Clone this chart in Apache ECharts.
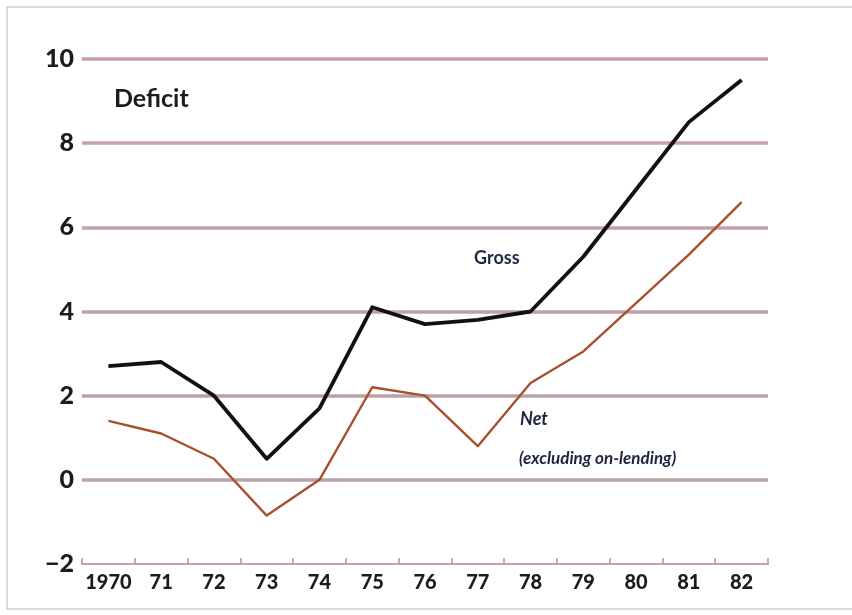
<!DOCTYPE html>
<html>
<head>
<meta charset="utf-8">
<script src="https://cdn.jsdelivr.net/npm/echarts@6/dist/echarts.min.js"></script>
<style>
  html, body { margin: 0; padding: 0; background: #fff; }
  #chart { width: 852px; height: 615px; }
</style>
</head>
<body>
<div id="chart"></div>
<script>
// Government deficit, 1970–82
const years = ['1970', '71', '72', '73', '74', '75', '76', '77', '78', '79', '80', '81', '82'];
const gross = [2.7, 2.8, 2.0, 0.5, 1.7, 4.1, 3.7, 3.8, 4.0, 5.3, 6.9, 8.5, 9.5];
const net   = [1.4, 1.1, 0.5, -0.85, 0.0, 2.2, 2.0, 0.8, 2.3, 3.05, 4.2, 5.35, 6.6];
const yTicks = { min: -2, max: 10, step: 2 };

const chart = echarts.init(document.getElementById('chart'));
const font = 'Lato, "Open Sans", sans-serif';
// one colour per horizontal rule, bottom (-2) to top (10); the bottom one is the axis itself
const ruleColors = ['rgba(0,0,0,0)', '#b9a3a8', '#b7a2a6', '#bca2a8', '#c6a0aa', '#c8a0a9', '#c79fa8'];

chart.setOption({
  backgroundColor: '#ffffff',
  animation: false,
  grid: { left: 82, right: 84, top: 59, bottom: 51 },
  xAxis: {
    type: 'category',
    data: years,
    boundaryGap: true,
    axisLine: { show: true, onZero: false, lineStyle: { color: '#bca6a8', width: 2 } },
    axisTick: { show: true, inside: true, length: 6, lineStyle: { color: '#a89698', width: 1.5 } },
    axisLabel: {
      interval: 0, color: '#1c1c1c', fontFamily: font, fontWeight: 900,
      fontSize: 20, margin: 9
    }
  },
  yAxis: {
    type: 'value',
    min: yTicks.min,
    max: yTicks.max,
    interval: yTicks.step,
    axisLine: { show: false },
    axisTick: { show: false },
    axisLabel: {
      color: '#1c1c1c', fontFamily: font, fontWeight: 900, fontSize: 25, margin: 8,
      formatter: v => (v < 0 ? '\u2212' + Math.abs(v) : String(v))
    },
    splitLine: {
      lineStyle: {
        width: 3.5,
        color: ruleColors
      }
    }
  },
  series: [
    {
      name: 'Gross',
      type: 'line',
      data: gross,
      symbol: 'none',
      lineStyle: { color: '#111111', width: 3.8, join: 'round' }
    },
    {
      name: 'Net',
      type: 'line',
      data: net,
      symbol: 'none',
      lineStyle: { color: '#a8502e', width: 2.4, join: 'round' }
    }
  ],
  graphic: [
    {
      type: 'rect',
      shape: { x: 7, y: 7, width: 846, height: 602 },
      style: { fill: 'none', stroke: '#cfcfcf', lineWidth: 1.5 },
      silent: true
    },
    {
      type: 'text', left: 114, top: 86,
      style: { text: 'Deficit', fill: '#1c1c1c', font: 'bold 25px ' + font }
    },
    {
      type: 'text', left: 474, top: 249,
      style: { text: 'Gross', fill: '#1e2a44', font: 'bold 18px ' + font }
    },
    {
      type: 'text', left: 520, top: 410,
      style: { text: 'Net', fill: '#1e2440', font: 'italic bold 18px ' + font }
    },
    {
      type: 'text', left: 519, top: 450,
      style: { text: '(excluding on-lending)', fill: '#1e2440', font: 'italic bold 17px ' + font }
    }
  ]
});
</script>
</body>
</html>
